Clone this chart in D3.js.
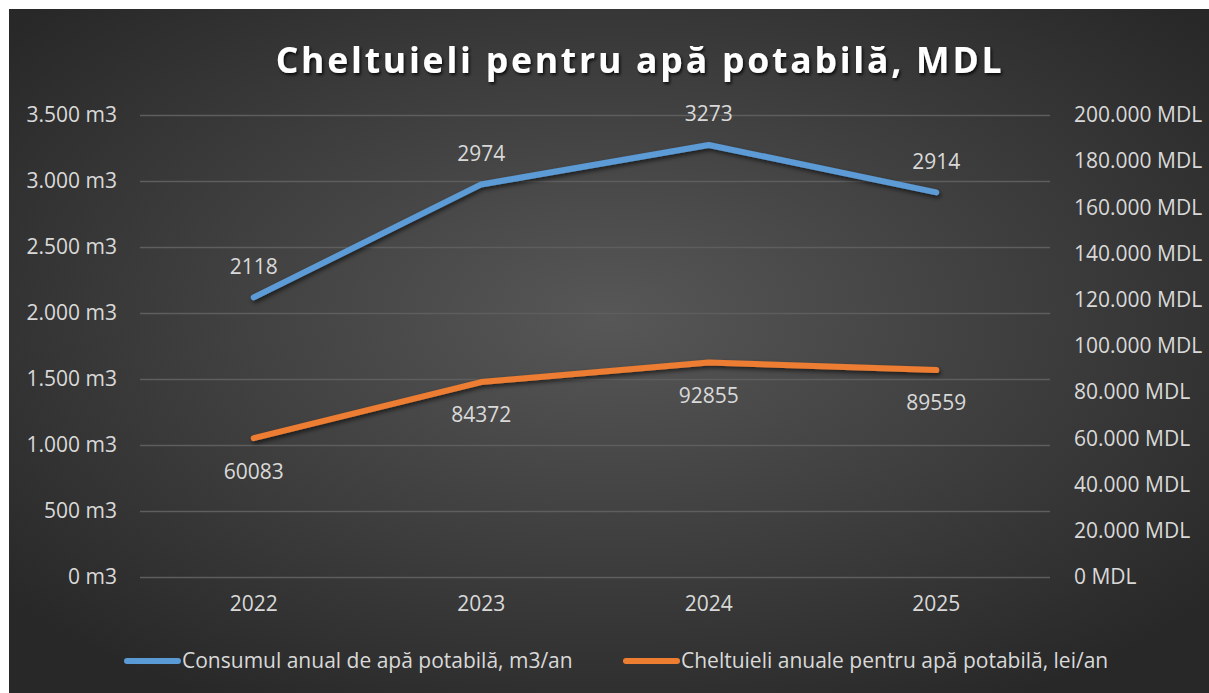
<!DOCTYPE html>
<html><head><meta charset="utf-8">
<script src="https://cdn.jsdelivr.net/npm/d3@7"></script>
<style>
html,body{margin:0;padding:0;background:#fff;overflow:hidden}
svg{display:block}
text{font-family:"Open Sans","Noto Sans",sans-serif}
</style></head><body>
<svg id="c" width="1209" height="693"></svg>
<script>
const categories = ["2022","2023","2024","2025"];
const consumValues = [2118, 2974, 3273, 2914];
const costValues = [60083, 84372, 92855, 89559];
const leftTicks = [0,500,1000,1500,2000,2500,3000,3500];
const rightTicks = [0,20000,40000,60000,80000,100000,120000,140000,160000,180000,200000];
const seriesNames = ["Consumul anual de apă potabilă, m3/an","Cheltuieli anuale pentru apă potabilă, lei/an"];
const title = "Cheltuieli pentru apă potabilă, MDL";

const FS = 21;
const svg = d3.select("#c");
const defs = svg.append("defs");
const rg = defs.append("radialGradient").attr("id","bg").attr("cx","50%").attr("cy","45%").attr("r","65%");
rg.append("stop").attr("offset","0%").attr("stop-color","#575757");
rg.append("stop").attr("offset","100%").attr("stop-color","#282828");
const sh = defs.append("filter").attr("id","sh").attr("x","-10%").attr("y","-50%").attr("width","120%").attr("height","200%");
sh.append("feDropShadow").attr("dx",1.5).attr("dy",2.5).attr("stdDeviation",2).attr("flood-color","#000").attr("flood-opacity",0.6);
const tsh = defs.append("filter").attr("id","tsh");
tsh.append("feDropShadow").attr("dx",1.5).attr("dy",2).attr("stdDeviation",1.5).attr("flood-color","#000").attr("flood-opacity",0.8);

svg.append("rect").attr("x",9).attr("y",9).attr("width",1200).attr("height",684).attr("fill","url(#bg)");

const fmt = d => d3.format(",")(d).replace(/,/g,".");
const x = d3.scaleBand().domain(categories).range([140,1050]);
const yL = d3.scaleLinear().domain([0,3500]).range([577,115]);
const yR = d3.scaleLinear().domain([0,200000]).range([577,115]);

// gridlines
const gl = svg.append("g").attr("transform","translate(140,0)")
  .call(d3.axisRight(yL).tickValues(leftTicks).tickSize(910).tickFormat(""));
gl.select(".domain").remove();
gl.selectAll("line").attr("stroke","#5e5e5e").attr("stroke-width",1.3);

// left axis labels
const la = svg.append("g").attr("transform","translate(117,0)")
  .call(d3.axisLeft(yL).tickValues(leftTicks).tickSize(0).tickPadding(0).tickFormat(d=>fmt(d)+" m3"));
la.select(".domain").remove();
la.selectAll("text").attr("fill","#d9d9d9").attr("font-size",FS).attr("font-family","Open Sans");

// right axis labels
const ra = svg.append("g").attr("transform","translate(1074,0)")
  .call(d3.axisRight(yR).tickValues(rightTicks).tickSize(0).tickPadding(0).tickFormat(d=>fmt(d)+" MDL"));
ra.select(".domain").remove();
ra.selectAll("text").attr("fill","#d9d9d9").attr("font-size",FS).attr("font-family","Open Sans");

// x axis
const xa = svg.append("g").attr("transform","translate(0,596)")
  .call(d3.axisBottom(x).tickSize(0).tickPadding(0));
xa.select(".domain").remove();
xa.selectAll("text").attr("fill","#d9d9d9").attr("font-size",FS).attr("font-family","Open Sans").attr("dy","0.71em");

const cx = d => x(d) + x.bandwidth()/2;

// lines
const lineL = d3.line().x((d,i)=>cx(categories[i])).y(d=>yL(d));
const lineR = d3.line().x((d,i)=>cx(categories[i])).y(d=>yR(d));
svg.append("path").datum(costValues).attr("d",lineR).attr("fill","none").attr("stroke","#ED7D31")
  .attr("stroke-width",6).attr("stroke-linecap","round").attr("stroke-linejoin","round").attr("filter","url(#sh)");
svg.append("path").datum(consumValues).attr("d",lineL).attr("fill","none").attr("stroke","#5B9BD5")
  .attr("stroke-width",6).attr("stroke-linecap","round").attr("stroke-linejoin","round").attr("filter","url(#sh)");

// data labels
svg.append("g").selectAll("text").data(consumValues).join("text")
  .attr("x",(d,i)=>cx(categories[i])).attr("y",d=>yL(d)-31).attr("dy","0.35em")
  .attr("text-anchor","middle").attr("fill","#d9d9d9").attr("font-size",FS).text(d=>d);
svg.append("g").selectAll("text").data(costValues).join("text")
  .attr("x",(d,i)=>cx(categories[i])).attr("y",d=>yR(d)+33).attr("dy","0.35em")
  .attr("text-anchor","middle").attr("fill","#d9d9d9").attr("font-size",FS).text(d=>d);

// title
svg.append("text").attr("x",640).attr("y",61).attr("dy","0.35em").attr("text-anchor","middle")
  .attr("fill","#ffffff").attr("font-size",35.5).attr("font-weight","bold").attr("letter-spacing",2.8)
  .attr("filter","url(#tsh)").text(title);

// legend
const leg = [{x:124,c:"#5B9BD5",t:seriesNames[0]},{x:623,c:"#ED7D31",t:seriesNames[1]}];
const lg = svg.append("g");
leg.forEach(l=>{
  lg.append("line").attr("x1",l.x+3).attr("x2",l.x+54).attr("y1",661).attr("y2",661)
    .attr("stroke",l.c).attr("stroke-width",6).attr("stroke-linecap","round");
  lg.append("text").attr("x",l.x+58).attr("y",661).attr("dy","0.35em").attr("fill","#d9d9d9")
    .attr("font-size",FS).text(l.t);
});
</script></body></html>
